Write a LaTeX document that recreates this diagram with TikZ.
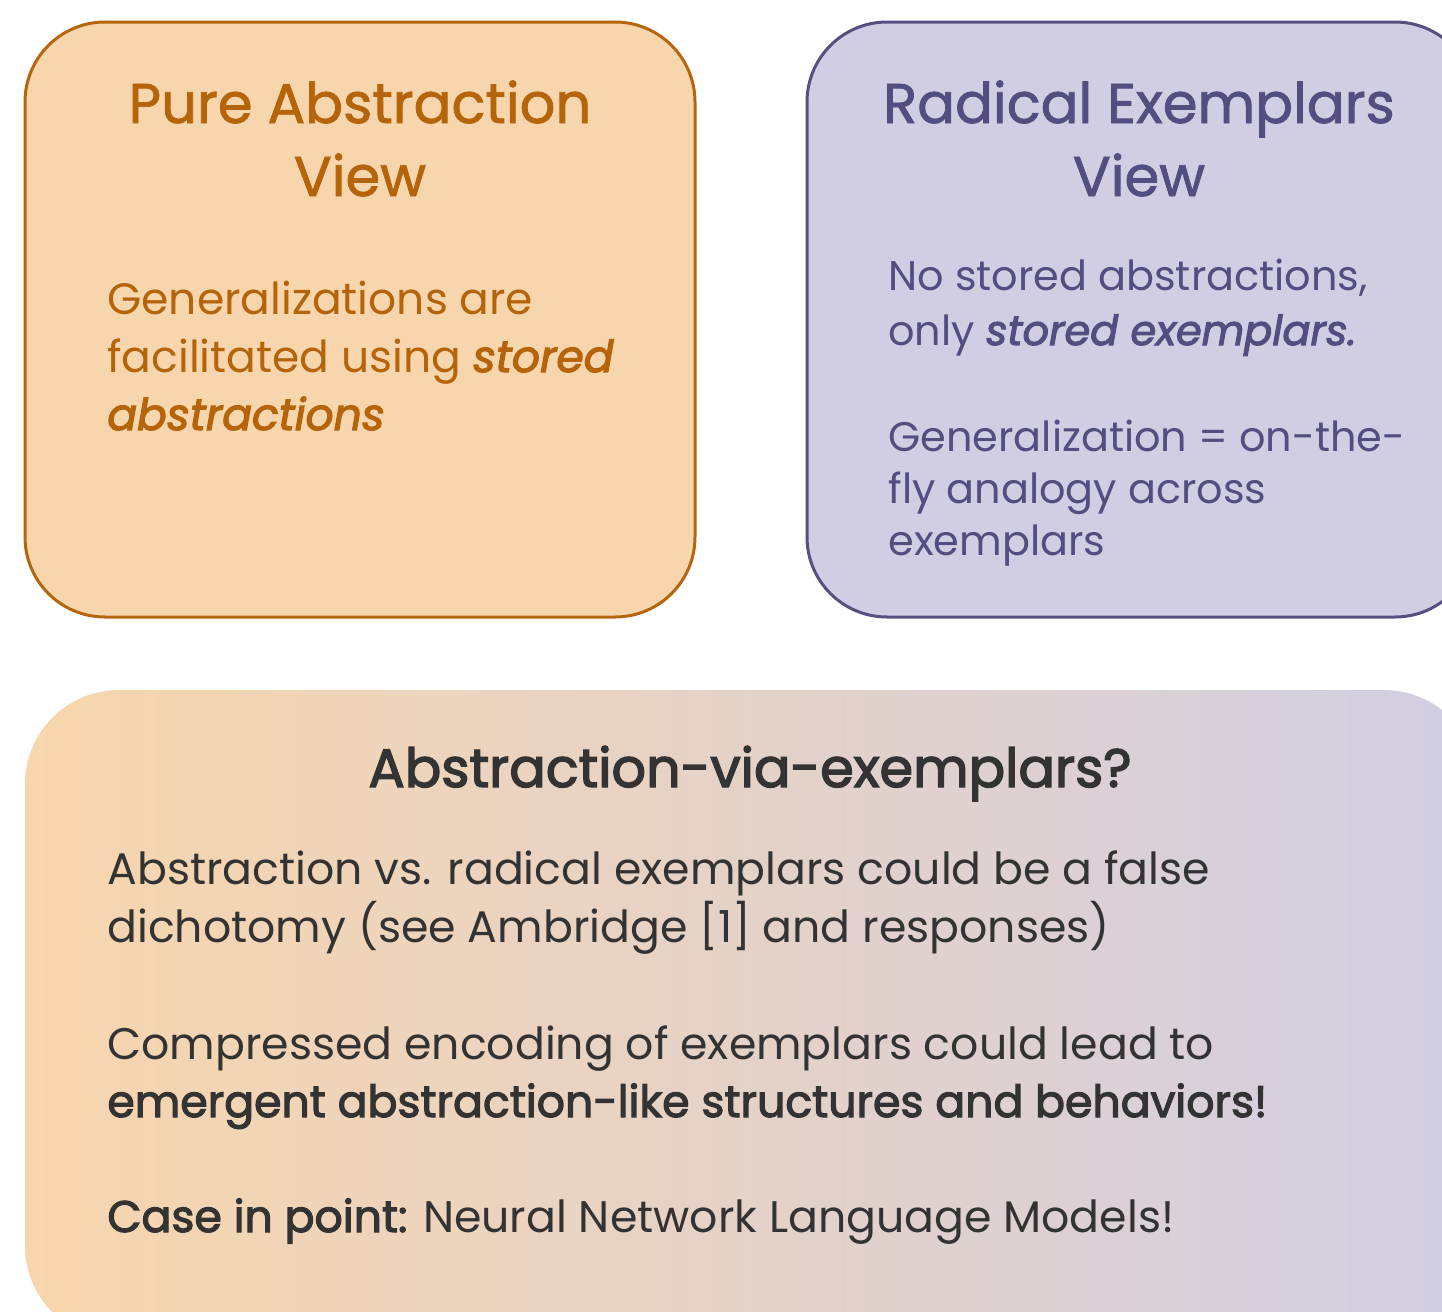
\documentclass[tikz,border=0pt]{standalone}
\usepackage{fontspec}
\setmainfont{Poppins}
% emboldened regular cuts stand in for the medium and semibold weights
\newfontfamily\medfont[FakeBold=1.4]{Poppins}
\newfontfamily\semifont[FakeBold=2.6]{Poppins}
\newcommand{\strongit}[1]{{\semifont\itshape #1}}
\newcommand{\strongup}[1]{{\semifont #1}}
\usetikzlibrary{shadings}
\definecolor{peachfill}{HTML}{F8D6AD}
\definecolor{peachline}{HTML}{B5660C}
\definecolor{peachtext}{HTML}{B5640A}
\definecolor{lilacfill}{HTML}{D1CEE3}
\definecolor{lilacline}{HTML}{55507F}
\definecolor{lilactext}{HTML}{524E80}
\definecolor{inktext}{HTML}{333333}
\tikzset{
  px/.style={x=0.5pt,y=-0.5pt},
  viewbox/.style={line width=1.5pt,rounded corners=40pt},
  % multi-line nodes: the base anchor sits on the last line's baseline
  headline/.style={anchor=base,align=center,inner sep=0pt,font=\medfont\fontsize{28}{36.5}\selectfont},
  bodytext/.style={anchor=base west,align=left,inner sep=0pt},
}
\begin{document}
\begin{tikzpicture}[px]
  \useasboundingbox (0,0) rectangle (1442,1312);
  \clip (0,0) rectangle (1442,1312);

  % upper left panel
  \draw[viewbox,draw=peachline,fill=peachfill] (25,22) rectangle (695,617);
  \node[headline,text=peachtext] (pureT) at (360,196) {Pure Abstraction\\View};
  \node[bodytext,text=peachtext,font=\fontsize{22}{29}\selectfont] (pureB) at (107,430)
    {Generalizations are\\facilitated using \strongit{stored}\\\strongit{abstractions}};

  % upper right panel
  \draw[viewbox,draw=lilacline,fill=lilacfill] (807,22) rectangle (1475,617);
  \node[headline,text=lilactext] (radT) at (1139,196) {Radical Exemplars\\View};
  \node[bodytext,text=lilactext,font=\fontsize{20.7}{27.5}\selectfont] (radB1) at (888,345)
    {No stored abstractions,\\only \strongit{stored exemplars.}};
  \node[bodytext,text=lilactext,font=\fontsize{20.7}{25.8}\selectfont] (radB2) at (888,555)
    {Generalization = on-the-\\fly analogy across\\exemplars};

  % lower panel with a left-to-right blend
  \shade[left color=peachfill,right color=lilacfill,rounded corners=47pt]
    (25,690) rectangle (1478,1340);
  \node[anchor=base,inner sep=0pt,text=inktext,font=\semifont\fontsize{27}{32}\selectfont] (midT) at (750,787)
    {Abstraction-via-exemplars?};
  \node[bodytext,text=inktext,font=\fontsize{22.1}{29}\selectfont] (midB1) at (107,942)
    {Abstraction vs. radical exemplars could be a false\\dichotomy (see Ambridge [1] and responses)};
  \node[bodytext,text=inktext,font=\fontsize{22.1}{29}\selectfont] (midB2) at (107,1117)
    {Compressed encoding of exemplars could lead to\\\strongup{emergent abstraction-like structures and behaviors!}};
  \node[bodytext,text=inktext,font=\fontsize{22.1}{29}\selectfont] (midB3) at (107,1232)
    {\strongup{Case in point:} Neural Network Language Models!};
\end{tikzpicture}
\end{document}
